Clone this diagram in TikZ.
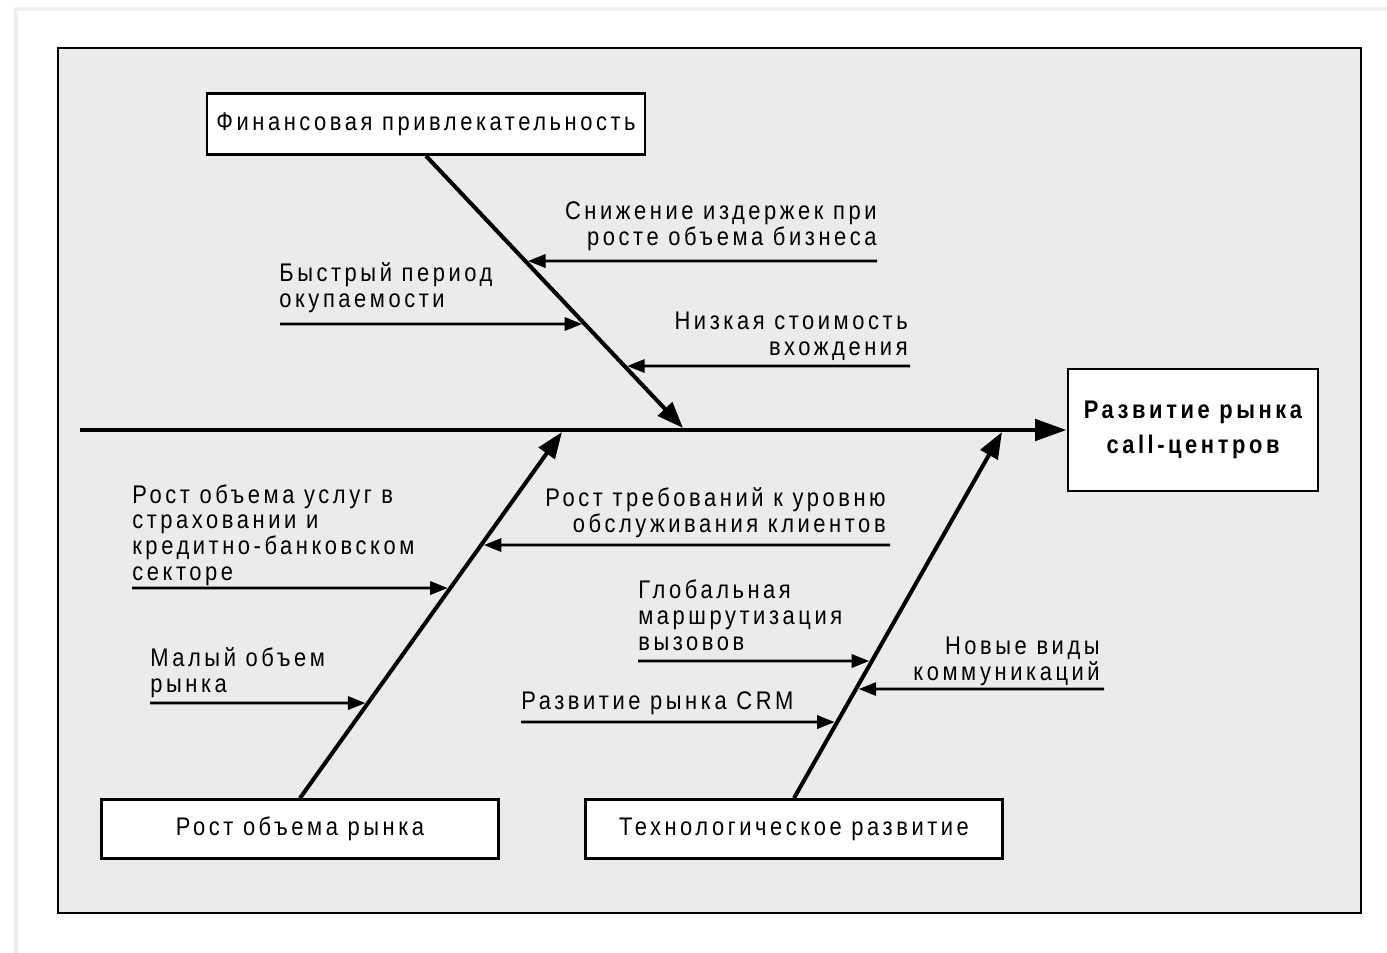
\documentclass[tikz,border=0pt]{standalone}
\usepackage{fontspec}
\setmainfont{Liberation Sans}[LetterSpace=14, FakeStretch=0.86]
\usetikzlibrary{arrows.meta}

\definecolor{bgfill}{HTML}{EBEBEB}
\newcommand{\lbl}{\fontsize{14.5}{14.6}\selectfont}

\begin{document}
\begin{tikzpicture}[x=0.02cm, y=-0.02cm,
    box/.style={draw, line width=1.6pt, fill=white, inner sep=0pt, font=\lbl},
    cause/.style={font=\lbl, inner sep=0pt},
    bone/.style={line width=2.3pt, -{Triangle[length=15pt,width=11pt]}},
    twig/.style={line width=1.6pt, -{Triangle[length=10pt,width=7.5pt]}}]

    \useasboundingbox (0,0) rectangle (1387,953);
    \draw[black!6, line width=2pt] (16,953) -- (16,9) -- (1387,9);
    \draw[line width=1.1pt, fill=bgfill] (58,48) rectangle (1361,913);

    % effect and main causes
    \node[box, minimum width=5cm, minimum height=2.44cm, align=center,
        font=\fontsize{14.5}{19.8}\selectfont\bfseries] (effect) at (1193,430)
        {Развитие рынка\\call-центров};
    \node[box, minimum width=8.76cm, minimum height=1.22cm] (fin) at (426,124)
        {Финансовая привлекательность};
    \node[box, minimum width=7.94cm, minimum height=1.18cm] (market) at (300,829)
        {Рост объема рынка};
    \node[box, minimum width=8.34cm, minimum height=1.18cm] (tech) at (794,829)
        {Технологическое развитие};

    \coordinate (tail) at (80,430);
    \coordinate (finend) at (683,428);
    \coordinate (marketend) at (562,432);
    \coordinate (techend) at (1002,432);

    \draw[line width=2.8pt, -{Triangle[length=18pt,width=12pt]}] (tail) -- (effect.west);
    \draw[bone] (fin.south) -- (finend);
    \draw[bone] (market.north) -- (marketend);
    \draw[bone] (tech.north) -- (techend);

    % secondary causes
    \node[cause, anchor=base east, align=right] (c1) at (877,245)
        {Снижение издержек при\\росте объема бизнеса};
    \node[cause, anchor=base west, align=left] (c2) at (279,307)
        {Быстрый период\\окупаемости};
    \node[cause, anchor=base east, align=right] (c3) at (908,355)
        {Низкая стоимость\\вхождения};
    \node[cause, anchor=base west, align=left] (c4) at (132,580)
        {Рост объема услуг в\\страховании и\\кредитно-банковском\\секторе};
    \node[cause, anchor=base west, align=left] (c5) at (150,692)
        {Малый объем\\рынка};
    \node[cause, anchor=base east, align=right] (c6) at (886,532)
        {Рост требований к уровню\\обслуживания клиентов};
    \node[cause, anchor=base west, align=left] (c7) at (638,650)
        {Глобальная\\маршрутизация\\вызовов};
    \node[cause, anchor=base east, align=right] (c8) at (1100,680)
        {Новые виды\\коммуникаций};
    \node[cause, anchor=base west, align=left] (c9) at (521,709)
        {Развитие рынка CRM};

    \coordinate (s1) at (877,261);
    \coordinate (s2) at (280,324);
    \coordinate (s3) at (910,366);
    \coordinate (s4) at (132,588);
    \coordinate (s5) at (150,703);
    \coordinate (s6) at (890,545);
    \coordinate (s7) at (638,661);
    \coordinate (s8) at (1104,689);
    \coordinate (s9) at (521,722);

    \draw[twig, shorten >=1.5pt] (s1) -- (intersection of fin.south--finend and 877,261--0,261);
    \draw[twig, shorten >=1.5pt] (s2) -- (intersection of fin.south--finend and 280,324--1000,324);
    \draw[twig, shorten >=1.5pt] (s3) -- (intersection of fin.south--finend and 910,366--0,366);
    \draw[twig, shorten >=1.5pt] (s4) -- (intersection of market.north--marketend and 132,588--1000,588);
    \draw[twig, shorten >=1.5pt] (s5) -- (intersection of market.north--marketend and 150,703--1000,703);
    \draw[twig, shorten >=1.5pt] (s6) -- (intersection of market.north--marketend and 890,545--0,545);
    \draw[twig, shorten >=1.5pt] (s7) -- (intersection of tech.north--techend and 638,661--1300,661);
    \draw[twig, shorten >=1.5pt] (s8) -- (intersection of tech.north--techend and 1104,689--0,689);
    \draw[twig, shorten >=1.5pt] (s9) -- (intersection of tech.north--techend and 521,722--1300,722);

\end{tikzpicture}
\end{document}
